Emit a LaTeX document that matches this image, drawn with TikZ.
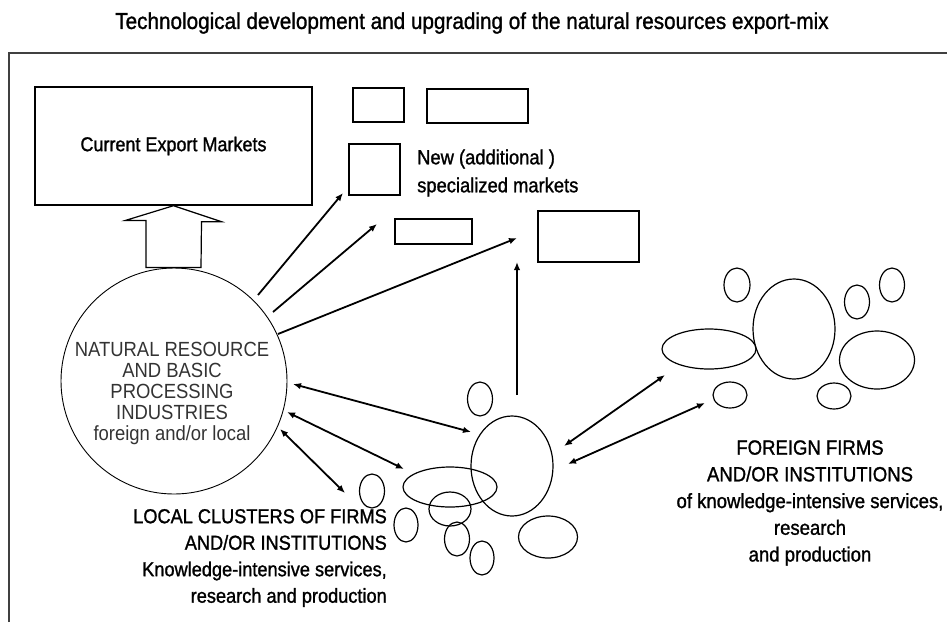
\documentclass[tikz,border=0pt]{standalone}
\usepackage{fontspec}
\setmainfont{Liberation Sans}[FakeStretch=0.9,FakeBold=1.2]
\newfontfamily\lightfont{Liberation Sans}[FakeStretch=0.9]
\usetikzlibrary{shapes.geometric,arrows.meta,calc}
\newcommand\fsz[2]{\fontsize{#1pt}{#2pt}\selectfont}
\begin{document}
\begin{tikzpicture}[x=1pt,y=-1pt,
  frame/.style={draw=black!75,line width=1.8pt},
  box/.style={draw,line width=1.4pt,inner sep=0pt},
  bs/.style 2 args={minimum width=#1,minimum height=#2},
  blob/.style={draw,ellipse,line width=1.2pt,inner sep=0pt},
  arr/.style={line width=1.8pt,-{Latex[length=8pt,width=6.5pt]}},
  darr/.style={line width=1.8pt,{Latex[length=8pt,width=6.5pt]}-{Latex[length=8pt,width=6.5pt]}},
  blockarrow/.style={draw,line width=1.2pt,fill=white},
  lbl/.style={inner sep=0pt}
]
\useasboundingbox (0,0) rectangle (947,622);
\draw[frame] (9,622) -- (9,53) -- (947,53);

\node[lbl,font=\fsz{23}{27}] (title) at (472,23) {Technological development and upgrading of the natural resources export-mix};

% market boxes
\node[box,bs={277pt}{118pt},font=\fsz{20}{24}] (cem) at (173.5,146) {Current Export Markets};
\node[box,bs={51pt}{34pt}] (m1) at (378.5,105) {};
\node[box,bs={101pt}{34pt}] (m2) at (477.5,106) {};
\node[box,bs={51pt}{51pt}] (m3) at (374.5,169.5) {};
\node[box,bs={77pt}{25pt}] (m4) at (433.5,231.5) {};
\node[box,bs={101pt}{51pt}] (m5) at (588.5,236.5) {};
\node[lbl,anchor=west,align=left,font=\fsz{20.4}{28}] (newm) at (417,173) {New (additional )\\specialized markets};

% natural resource circle
\node[draw,circle,line width=0.9pt,minimum size=226pt,inner sep=0pt] (nr) at (174,381) {};
\node[lbl,align=center,text=black!80,font=\lightfont\fsz{20.5}{21}] (nrt) at (172,393) {NATURAL RESOURCE\\AND BASIC\\PROCESSING\\INDUSTRIES\\foreign and/or local};

% block arrow from circle to current markets
\draw[blockarrow] (cem.south) -- ++(48,16) -- ++(-20,0) -- (nr.north -| 201,0) -- (nr.north -| 146,0) -- ++(0,-47) -- ++(-21,0) -- cycle;

% local cluster
\node[blob,bs={25pt}{34pt}] (l1) at (480,399) {};
\node[blob,bs={82pt}{100pt}] (l2) at (512,466) {};
\node[blob,bs={94pt}{40pt}] (l3) at (450,487) {};
\node[blob,bs={42pt}{34pt}] (l4) at (450,509) {};
\node[blob,bs={25pt}{34pt}] (l5) at (372,491) {};
\node[blob,bs={24pt}{34pt}] (l6) at (406,525) {};
\node[blob,bs={25pt}{34pt}] (l7) at (457,539) {};
\node[blob,bs={24pt}{34pt}] (l8) at (482,558) {};
\node[blob,bs={59pt}{42pt}] (l9) at (548,537) {};
\node[lbl,anchor=east,align=right,font=\fsz{20.2}{26.5}] (localt) at (387,558) {LOCAL CLUSTERS OF FIRMS\\AND/OR INSTITUTIONS\\Knowledge-intensive services,\\research and production};

% foreign cluster
\node[blob,bs={26pt}{34pt}] (f1) at (737,285) {};
\node[blob,bs={82pt}{100pt}] (f2) at (794,329) {};
\node[blob,bs={94pt}{40pt}] (f3) at (709,349) {};
\node[blob,bs={25pt}{34pt}] (f4) at (857,302) {};
\node[blob,bs={25pt}{34pt}] (f5) at (892,285) {};
\node[blob,bs={75pt}{58pt}] (f6) at (877,360) {};
\node[blob,bs={34pt}{26pt}] (f7) at (730,395) {};
\node[blob,bs={34pt}{26pt}] (f8) at (834,396) {};
\node[lbl,align=center,font=\fsz{20.6}{26.7}] (foreignt) at (810,503) {FOREIGN FIRMS\\AND/OR INSTITUTIONS\\of knowledge-intensive services,\\research\\and production};

% arrow end points
\coordinate (a1s) at (258,295); \coordinate (a1e) at (343,193);
\coordinate (a2s) at (273,312); \coordinate (a2e) at (377,224);
\coordinate (a3s) at (278,334); \coordinate (a3e) at (517,238);
\coordinate (vs) at (517,395);  \coordinate (ve) at (517,262);
\coordinate (d1s) at (293,384); \coordinate (d1e) at (471,432);
\coordinate (d2s) at (287,412); \coordinate (d2e) at (404,469);
\coordinate (d3s) at (280,429); \coordinate (d3e) at (345,493);
\coordinate (f1s) at (564,446); \coordinate (f1e) at (665,375);
\coordinate (f2s) at (568,464); \coordinate (f2e) at (705,403);

\draw[arr] (a1s) -- (a1e);
\draw[arr] (a2s) -- (a2e);
\draw[arr] (a3s) -- (a3e);
\draw[arr] (vs) -- (ve);
\draw[darr] (d1s) -- (d1e);
\draw[darr] (d2s) -- (d2e);
\draw[darr] (d3s) -- (d3e);
\draw[darr] (f1s) -- (f1e);
\draw[darr] (f2s) -- (f2e);
\end{tikzpicture}
\end{document}
